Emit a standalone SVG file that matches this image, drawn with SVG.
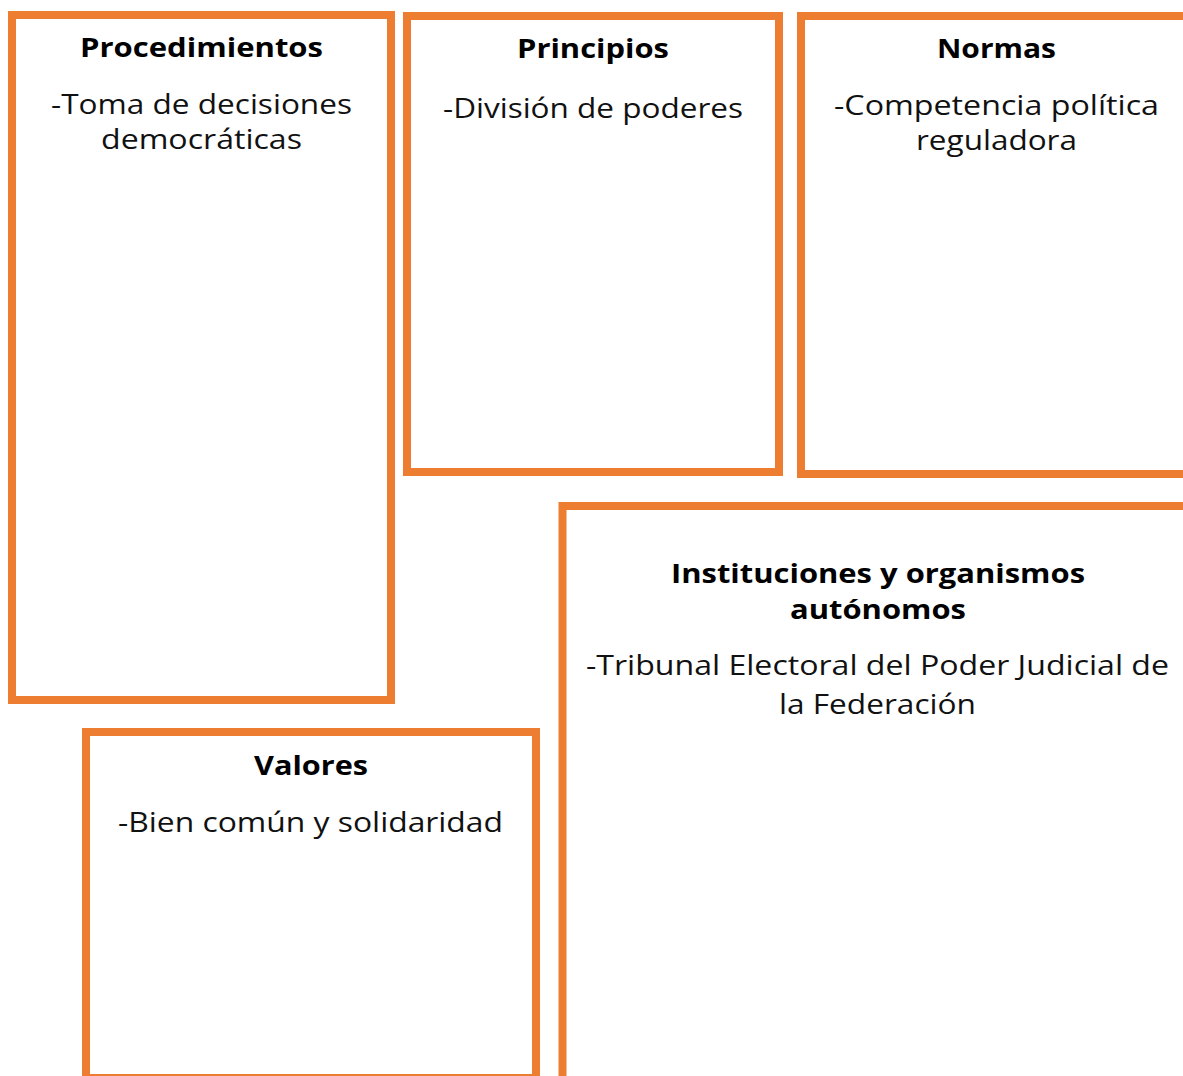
<svg xmlns="http://www.w3.org/2000/svg" width="1183" height="1076" viewBox="0 0 1183 1076">
<style>
.box{fill:#FFFFFF;stroke:#ED7D31;stroke-width:8}
.t{font-family:"Open Sans","Liberation Sans",sans-serif;font-size:27px;fill:#111111;text-anchor:middle}
.h{font-family:"Open Sans","Liberation Sans",sans-serif;font-size:27px;font-weight:bold;fill:#000000;text-anchor:middle}
</style>
<rect width="1183" height="1076" fill="#FFFFFF"/>
<g id="procedimientos">
<rect class="box" x="12" y="15" width="379" height="685"/>
<text class="h" x="201.5" y="57" textLength="243" lengthAdjust="spacingAndGlyphs">Procedimientos</text>
<text class="t" x="201.5" y="114" textLength="301" lengthAdjust="spacingAndGlyphs">-Toma de decisiones</text>
<text class="t" x="201.5" y="149" textLength="201" lengthAdjust="spacingAndGlyphs">democráticas</text>
</g>
<g id="principios">
<rect class="box" x="407" y="16" width="372" height="456"/>
<text class="h" x="593" y="58" textLength="152" lengthAdjust="spacingAndGlyphs">Principios</text>
<text class="t" x="593" y="118" textLength="300" lengthAdjust="spacingAndGlyphs">-División de poderes</text>
</g>
<g id="normas">
<rect class="box" x="801" y="16" width="400" height="458"/>
<text class="h" x="996.5" y="58" textLength="119" lengthAdjust="spacingAndGlyphs">Normas</text>
<text class="t" x="996.5" y="115" textLength="325" lengthAdjust="spacingAndGlyphs">-Competencia política</text>
<text class="t" x="996.5" y="150" textLength="161" lengthAdjust="spacingAndGlyphs">reguladora</text>
</g>
<g id="instituciones">
<rect class="box" x="562.5" y="506" width="640" height="600"/>
<text class="h" x="878" y="583" textLength="414" lengthAdjust="spacingAndGlyphs">Instituciones y organismos</text>
<text class="h" x="878" y="619" textLength="176" lengthAdjust="spacingAndGlyphs">autónomos</text>
<text class="t" x="877.5" y="675" textLength="583" lengthAdjust="spacingAndGlyphs">-Tribunal Electoral del Poder Judicial de</text>
<text class="t" x="877.5" y="714" textLength="197" lengthAdjust="spacingAndGlyphs">la Federación</text>
</g>
<g id="valores">
<rect class="box" x="86" y="732" width="450" height="346"/>
<text class="h" x="311" y="775" textLength="114" lengthAdjust="spacingAndGlyphs">Valores</text>
<text class="t" x="310.5" y="832" textLength="385" lengthAdjust="spacingAndGlyphs">-Bien común y solidaridad</text>
</g>
<g id="connectors"></g>
</svg>
